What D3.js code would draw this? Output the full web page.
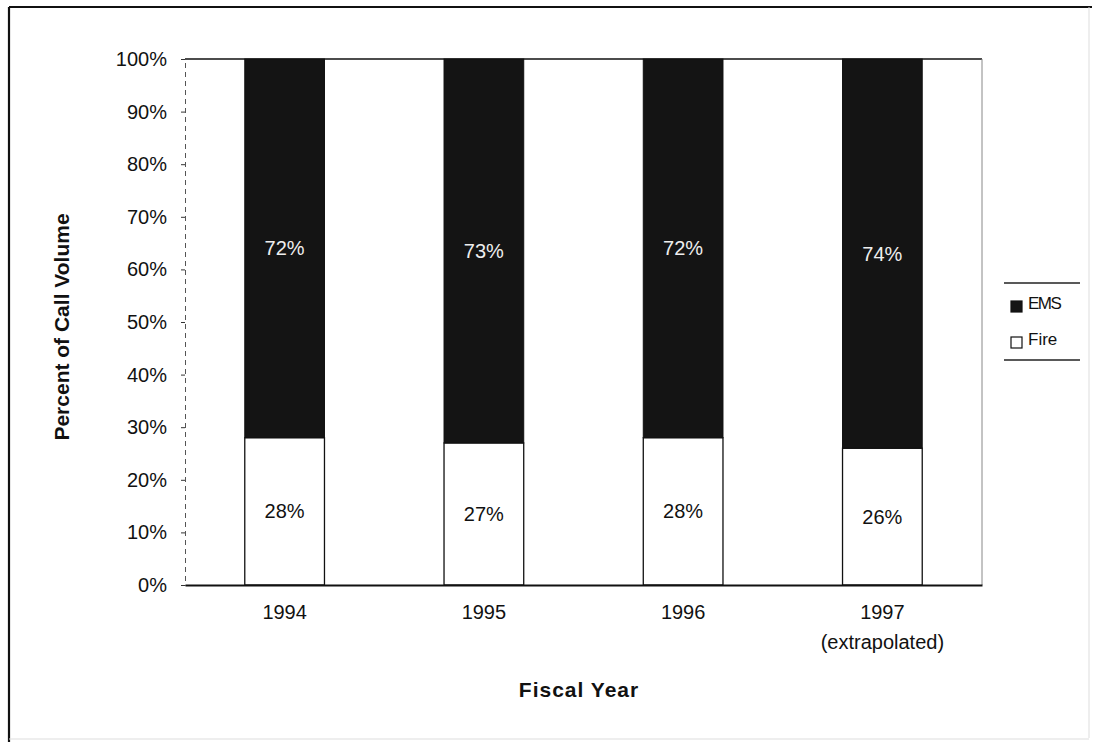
<!DOCTYPE html>
<html>
<head>
<meta charset="utf-8">
<script src="https://cdn.jsdelivr.net/npm/d3@7"></script>
<style>
  html, body { margin: 0; padding: 0; background: #fff; }
  svg { display: block; font-family: "Liberation Sans", Arial, sans-serif; }
</style>
</head>
<body>
<svg id="chart" width="1095" height="742"></svg>
<script>
// Share of call volume by fiscal year (percent)
const categories = ["1994", "1995", "1996", "1997"];
const categoryNotes = ["", "", "", "(extrapolated)"];
const fireValues = [28, 27, 28, 26];
const emsValues = [72, 73, 72, 74];
const yTicks = [0, 10, 20, 30, 40, 50, 60, 70, 80, 90, 100];
const seriesNames = ["EMS", "Fire"];

const svg = d3.select("#chart");
const plot = { left: 185, right: 982, top: 59, bottom: 585 };
const FONT = "Liberation Sans, Arial, sans-serif";

// outer frame
svg.append("line").attr("x1", 9).attr("x2", 1092).attr("y1", 7).attr("y2", 7)
  .attr("stroke", "#111").attr("stroke-width", 2.2);
svg.append("line").attr("x1", 9).attr("x2", 9).attr("y1", 7).attr("y2", 742)
  .attr("stroke", "#111").attr("stroke-width", 2.2);
svg.append("line").attr("x1", 1089).attr("x2", 1089).attr("y1", 7).attr("y2", 738)
  .attr("stroke", "#ddd").attr("stroke-width", 1);
svg.append("line").attr("x1", 9).attr("x2", 1089).attr("y1", 739).attr("y2", 739)
  .attr("stroke", "#ddd").attr("stroke-width", 1);

const x = d3.scaleBand().domain(categories).range([plot.left, plot.right])
  .paddingInner(0.6).paddingOuter(0.3);
const y = d3.scaleLinear().domain([0, 100]).range([plot.bottom, plot.top]);

// plot area top edge and right edge
svg.append("line").attr("x1", plot.left).attr("x2", plot.right)
  .attr("y1", y(100)).attr("y2", y(100)).attr("stroke", "#111").attr("stroke-width", 1.6);
svg.append("line").attr("x1", plot.right).attr("x2", plot.right)
  .attr("y1", plot.top).attr("y2", plot.bottom).attr("stroke", "#888").attr("stroke-width", 1);

// stacked bars
const rows = categories.map((c, i) => ({ cat: c, fire: fireValues[i], ems: emsValues[i] }));
const g = svg.append("g");

g.selectAll("rect.fire").data(rows).join("rect")
  .attr("class", "fire")
  .attr("x", d => x(d.cat)).attr("width", x.bandwidth())
  .attr("y", d => y(d.fire)).attr("height", d => y(0) - y(d.fire))
  .attr("fill", "#fff").attr("stroke", "#111").attr("stroke-width", 1.3);

g.selectAll("rect.ems").data(rows).join("rect")
  .attr("class", "ems")
  .attr("x", d => x(d.cat)).attr("width", x.bandwidth())
  .attr("y", d => y(d.fire + d.ems)).attr("height", d => y(d.fire) - y(d.fire + d.ems))
  .attr("fill", "#141414").attr("stroke", "#111").attr("stroke-width", 1);

g.selectAll("text.emsLabel").data(rows).join("text")
  .attr("class", "emsLabel")
  .attr("x", d => x(d.cat) + x.bandwidth() / 2)
  .attr("y", d => (y(d.fire) + y(d.fire + d.ems)) / 2)
  .attr("dy", "0.35em").attr("text-anchor", "middle")
  .attr("fill", "#eee").attr("font-size", 20)
  .text(d => d.ems + "%");

g.selectAll("text.fireLabel").data(rows).join("text")
  .attr("class", "fireLabel")
  .attr("x", d => x(d.cat) + x.bandwidth() / 2)
  .attr("y", d => (y(0) + y(d.fire)) / 2)
  .attr("dy", "0.35em").attr("text-anchor", "middle")
  .attr("fill", "#111").attr("font-size", 20)
  .text(d => d.fire + "%");

// y axis
const yAxis = svg.append("g").attr("transform", `translate(${plot.left},0)`)
  .call(d3.axisLeft(y).tickValues(yTicks).tickFormat(d => d + "%").tickSize(4).tickPadding(14));
yAxis.select(".domain").attr("stroke", "#555").attr("stroke-dasharray", "5,4");
yAxis.selectAll(".tick line").attr("stroke", "#333");
yAxis.selectAll(".tick text").attr("font-size", 20).attr("fill", "#111")
  .attr("font-family", FONT);

// x axis
const xAxis = svg.append("g").attr("transform", `translate(0,${plot.bottom})`)
  .call(d3.axisBottom(x).tickSize(0).tickPadding(20));
xAxis.select(".domain").attr("stroke", "#111").attr("stroke-width", 1.8);
xAxis.selectAll(".tick text").attr("font-size", 20).attr("fill", "#111")
  .attr("font-family", FONT);
xAxis.selectAll(".tick").each(function (d, i) {
  if (categoryNotes[i]) {
    d3.select(this).append("text")
      .attr("y", 50).attr("dy", "0.71em").attr("text-anchor", "middle")
      .attr("fill", "#111").attr("font-size", 20)
      .attr("font-family", FONT)
      .text(categoryNotes[i]);
  }
});

// axis titles
svg.append("text")
  .attr("transform", `translate(62,${(plot.top + plot.bottom) / 2 + 5}) rotate(-90)`)
  .attr("dy", "0.35em")
  .attr("text-anchor", "middle").attr("font-weight", "bold").attr("font-size", 21)
  .attr("fill", "#111").text("Percent of Call Volume");
svg.append("text")
  .attr("x", 579).attr("y", 690).attr("dy", "0.35em")
  .attr("text-anchor", "middle").attr("font-weight", "bold").attr("font-size", 21)
  .attr("letter-spacing", "1")
  .attr("fill", "#111").text("Fiscal Year");

// legend
const lg = svg.append("g");
lg.append("line").attr("x1", 1004).attr("x2", 1080).attr("y1", 283).attr("y2", 283)
  .attr("stroke", "#222").attr("stroke-width", 1.4);
lg.append("line").attr("x1", 1004).attr("x2", 1080).attr("y1", 360).attr("y2", 360)
  .attr("stroke", "#222").attr("stroke-width", 1.4);
const legendFills = ["#141414", "#fff"];
seriesNames.forEach((name, i) => {
  const yy = 307 + i * 36;
  lg.append("rect").attr("x", 1011).attr("y", yy - 6).attr("width", 11).attr("height", 11)
    .attr("fill", legendFills[i]).attr("stroke", "#111").attr("stroke-width", 1.2);
  lg.append("text").attr("x", 1028).attr("y", yy - 4).attr("dy", "0.35em")
    .attr("font-size", 17).attr("fill", "#111")
    .attr("letter-spacing", i === 0 ? "-1.5" : "0").text(name);
});
</script>
</body>
</html>
